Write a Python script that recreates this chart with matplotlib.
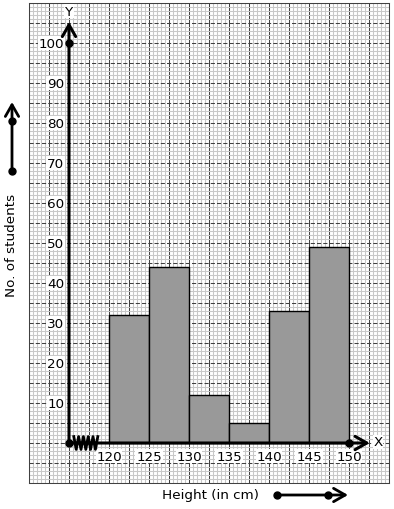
import numpy as np
import matplotlib
matplotlib.use('Agg')
import matplotlib.pyplot as plt

# class intervals (lower edges) and frequencies
class_starts = [120, 125, 130, 135, 140, 145]
class_width = 5
students = [32, 44, 12, 5, 33, 49]
x_ticks = [120, 125, 130, 135, 140, 145, 150]
y_ticks = [10, 20, 30, 40, 50, 60, 70, 80, 90, 100]

W, H = 394, 510
fig = plt.figure(figsize=(W / 100, H / 100), dpi=100)
ax = fig.add_axes([29 / W, 26 / H, 360 / W, 480 / H])
ax.set_xlim(110, 155)
ax.set_ylim(-10, 110)

# graph paper
ax.set_xticks(np.arange(110, 155.1, 2.5))
ax.set_xticks(np.arange(110, 155.1, 0.5), minor=True)
ax.set_yticks(np.arange(-10, 110.1, 5))
ax.set_yticks(np.arange(-10, 110.1, 1), minor=True)
ax.tick_params(which='both', length=0, labelbottom=False, labelleft=False)
ax.xaxis.grid(True, which='minor', color='#c8c8c8', lw=0.75)
ax.yaxis.grid(True, which='minor', color='#c8c8c8', lw=0.75)
ax.xaxis.grid(True, which='major', color='#404040', lw=0.75, ls='-')
ax.yaxis.grid(True, which='major', color='#404040', lw=0.75, ls=(0, (4, 2)))
ax.set_axisbelow(True)
for s in ax.spines.values():
    s.set_color('#404040')
    s.set_linewidth(0.75)

# histogram
ax.bar(class_starts, students, width=class_width, align='edge',
       color='#999999', edgecolor='black', lw=1, zorder=3)

# axes with arrows
arrow = dict(arrowstyle='->,head_length=0.7,head_width=0.4', lw=2.2, color='black',
             mutation_scale=12, shrinkA=0, shrinkB=0)
ax.annotate('', xy=(115, 105.3), xytext=(115, 0), arrowprops=arrow, zorder=5)
ax.annotate('', xy=(152.6, 0), xytext=(115, 0), arrowprops=arrow, zorder=5)
ax.plot([115, 115, 150], [0, 100, 0], 'ko', ms=5, zorder=6)

# kink on x axis
zx = np.linspace(115.6, 118.6, 11)
zy = np.where(np.arange(11) % 2 == 0, 1.6, -1.6)
ax.plot(zx, zy, color='black', lw=2, zorder=6)

fs = 9.7
box = dict(facecolor='white', edgecolor='none', pad=0.5)
for v in y_ticks:
    ax.text(114.4, v, str(v), ha='right', va='center', fontsize=fs, bbox=box, zorder=4)
for v in x_ticks:
    ax.text(v, -3.3, str(v), ha='center', va='center', fontsize=fs, bbox=box, zorder=4)
ax.text(115, 108, 'Y', ha='center', va='center', fontsize=fs, bbox=box, zorder=4)
ax.text(153.6, 0.3, 'X', ha='center', va='center', fontsize=fs, bbox=box, zorder=4)

# outer labels and arrows
fig.text(12 / W, 1 - 245 / H, 'No. of students', rotation=90, ha='center', va='center', fontsize=fs)
fig.text(210 / W, 1 - 496 / H, 'Height (in cm)', ha='center', va='center', fontsize=fs)
for a, b in [((12, 172), (12, 103)), ((277, 496), (348, 496))]:
    fig.patches.append(matplotlib.patches.FancyArrowPatch(
        (a[0] / W, 1 - a[1] / H), (b[0] / W, 1 - b[1] / H), transform=fig.transFigure,
        arrowstyle='->,head_length=0.7,head_width=0.4', mutation_scale=12,
        shrinkA=0, shrinkB=0, lw=2, color='black'))
fig.lines.append(matplotlib.lines.Line2D(
    [12 / W, 12 / W, 277 / W, 328 / W], [1 - 172 / H, 1 - 122 / H, 1 - 496 / H, 1 - 496 / H],
    transform=fig.transFigure, ls='none', marker='o', ms=5, color='black'))

fig.savefig('out.png', dpi=100)
